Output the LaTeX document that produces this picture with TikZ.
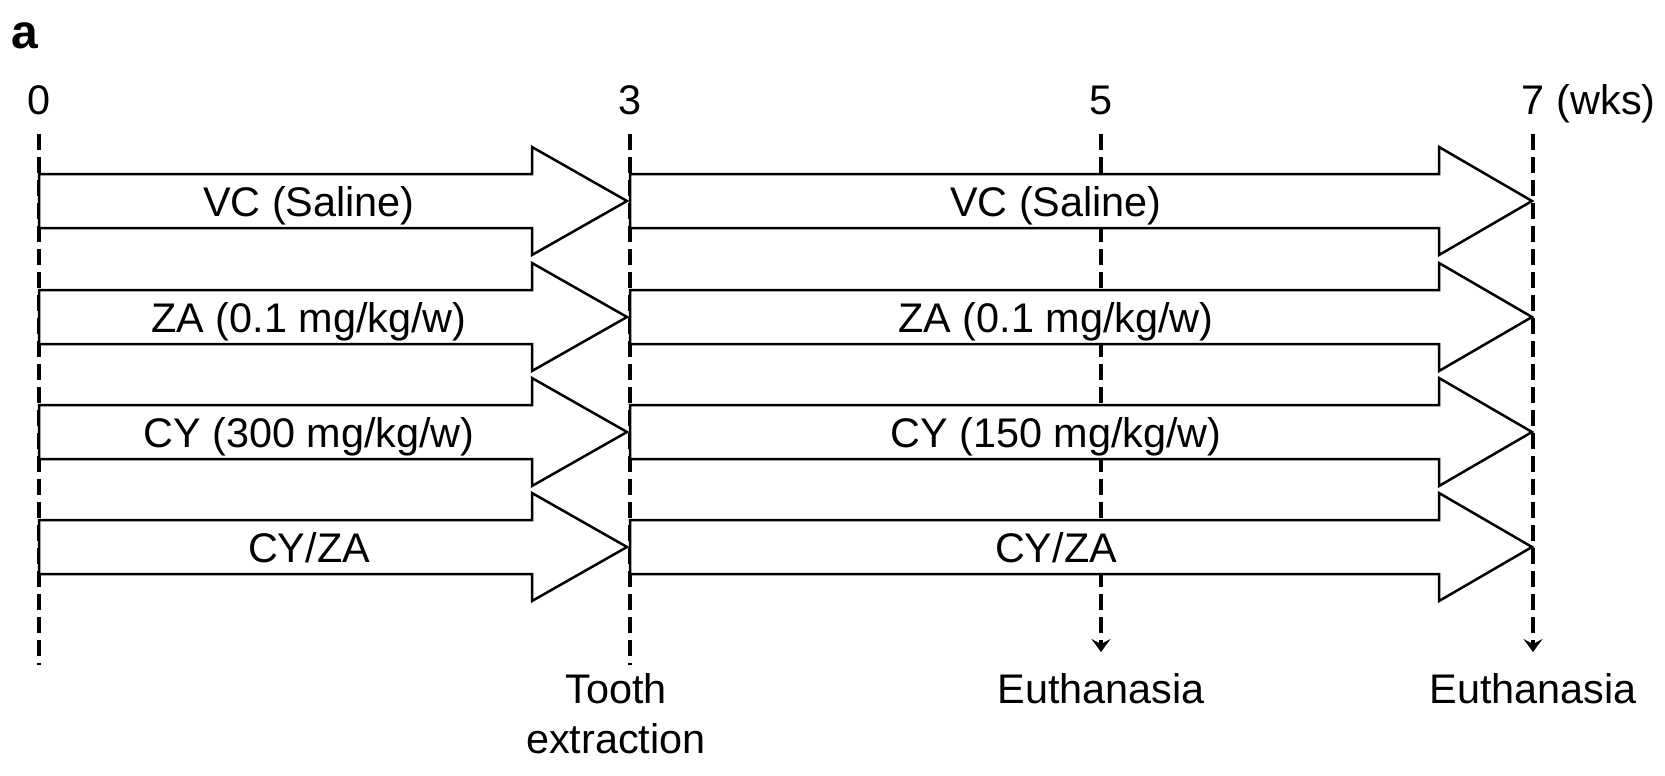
\documentclass[tikz,border=0pt]{standalone}
\usepackage{fontspec}
\setmainfont{Liberation Sans}
\usetikzlibrary{arrows.meta,positioning}
\tikzset{
  every node/.style={font=\fontsize{20.7}{25}\selectfont, inner sep=0pt},
  % --- nodes
  wk/.style     = {anchor=base},
  grp/.style    = {anchor=base},
  evt/.style    = {anchor=north, align=center},
  % --- lines
  blk/.style    = {draw=black, line width=1.25pt, fill=white, line join=miter},
  wkline/.style = {line width=2.4pt, dash pattern=on 8pt off 3.5pt},
  wkend/.style  = {wkline, -{Stealth[length=6.5pt,width=9.5pt,inset=2.5pt]}},
}

\begin{document}
\begin{tikzpicture}[x=0.5pt,y=-0.5pt]
  \useasboundingbox (0,0) rectangle (1665,776);
  \node[anchor=base west, font=\fontsize{24}{28}\selectfont\bfseries] (panel) at (11,48) {a};

  % time axis
  \node[wk] (w0) at (39,114) {0};
  \node[wk] (w3) at (630,114) {3};
  \node[wk] (w5) at (1101,114) {5};
  \node[wk] (w7) at (1533,114) {7};
  \node[base right=5.75pt of w7] (unit) {(wks)};

  \node[evt] (tooth) at (616,673) {Tooth\\extraction};
  \node[evt] (euth5) at (1101,673) {Euthanasia};
  \node[evt] (euth7) at (1533,673) {Euthanasia};

  \coordinate (hi) at (0,134);
  \coordinate (lo) at (0,665);
  \draw[wkline] (w0 |- hi) -- (w0 |- lo);
  \draw[wkline] (w3 |- hi) -- (w3 |- lo);
  \draw[wkend, shorten >=10.5pt] (w5 |- hi) -- (w5 |- euth5.north);
  \draw[wkend, shorten >=10.5pt] (w7 |- hi) -- (w7 |- euth7.north);

  % treatment groups
  \foreach \yy/\la/\lb [count=\i] in {201/{VC (Saline)}/{VC (Saline)},
      317/{ZA (0.1 mg/kg/w)}/{ZA (0.1 mg/kg/w)},
      432/{CY (300 mg/kg/w)}/{CY (150 mg/kg/w)},
      547/{CY/ZA}/{CY/ZA}}{
    \draw[blk] (39,{\yy-27}) -| (532,{\yy-54}) -- (627,\yy) -- (532,{\yy+54}) |- (39,{\yy+27}) -- cycle;
    \draw[blk] (630,{\yy-27}) -| (1439,{\yy-54}) -- (1532,\yy) -- (1439,{\yy+54}) |- (630,{\yy+27}) -- cycle;
    \node[grp] (pre\i) at (309,{\yy+15}) {\la};
    \node[grp] (post\i) at (1056,{\yy+15}) {\lb};
  }
\end{tikzpicture}
\end{document}
